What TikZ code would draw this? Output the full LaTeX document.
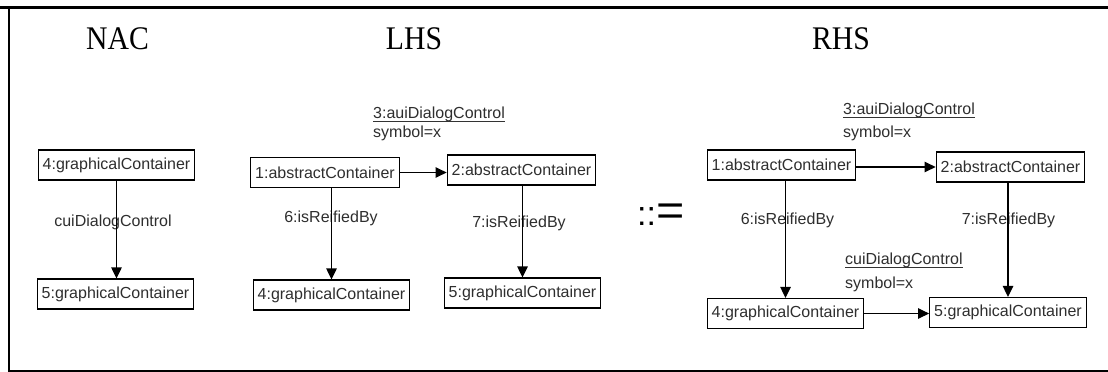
\documentclass[tikz,border=0pt]{standalone}
\usepackage{fontspec}
\setmainfont{Liberation Serif}
\setsansfont{Liberation Sans}
\usetikzlibrary{arrows.meta}
\begin{document}
\begin{tikzpicture}[x=1pt,y=-1pt,
  box/.style={draw, line width=1.2pt, font=\fontsize{16}{18}\selectfont\sffamily, text=black!82, inner xsep=4.5pt, inner ysep=0pt, minimum height=30pt},
  lbl/.style={font=\fontsize{16}{18}\selectfont\sffamily, text=black!82, inner sep=0pt},
  ttl/.style={font=\fontsize{33}{36}\selectfont, inner sep=0pt},
  arr/.style={-{Triangle[length=11pt,width=10.5pt]}, line width=1.2pt},
  uline/.style={line width=1pt, black!80}
]
\useasboundingbox (0,0) rectangle (1108,372);
% frame
\draw[line width=3pt] (0,7.5) -- (1108,7.5);
\draw[line width=2.2pt] (9.3,6) -- (9.3,371);
\draw[line width=2pt] (8.2,370.5) -- (1108,370.5);

% titles
\node[ttl] (tnac) at (117.5,39) {\scalebox{0.9}[1]{NAC}};
\node[ttl] (tlhs) at (414,39) {\scalebox{0.9}[1]{LHS}};
\node[ttl] (trhs) at (841,39) {\scalebox{0.9}[1]{RHS}};

% NAC
\node[box] (n4) at (116.5,165) {4:graphicalContainer};
\node[box] (n5) at (115.5,294) {5:graphicalContainer};
\node[lbl] (nlab) at (113,222) {cuiDialogControl};
\draw[arr] (n4.south) -- (n4.south |- n5.north);

% LHS
\node[lbl, anchor=base west] (l3) at (373,118) {3:auiDialogControl};
\draw[uline] ([yshift=-3.5pt]l3.base west) -- ([yshift=-3.5pt]l3.base east);
\node[lbl, anchor=base west] (l3s) at (373,137) {symbol=x};
\node[box] (l1) at (325,172.5) {1:abstractContainer};
\node[box] (l2) at (521.5,170) {2:abstractContainer};
\node[box] (l4) at (331.5,295) {4:graphicalContainer};
\node[box] (l5) at (522.5,293) {5:graphicalContainer};
\node[lbl] (l6lab) at (331,218) {6:isReifiedBy};
\node[lbl] (l7lab) at (519,223) {7:isReifiedBy};
\draw[arr] (l1.east) -- (l1.east -| l2.west);
\draw[arr] (l1.south -| l4.north) -- (l4.north);
\draw[arr] (l2.south -| l5.north) -- (l5.north);

% ::=
\node[anchor=base west, inner sep=0pt, font=\fontsize{34}{34}\selectfont\sffamily] (colons) at (637,225) {::};
\node[anchor=base west, inner sep=0pt, font=\fontsize{44}{44}\selectfont\sffamily] (eqs) at (656,225) {\scalebox{1.1}[1]{=}};

% RHS
\node[lbl, anchor=base west] (r3) at (843,114) {3:auiDialogControl};
\draw[uline] ([yshift=-3.5pt]r3.base west) -- ([yshift=-3.5pt]r3.base east);
\node[lbl, anchor=base west] (r3s) at (843,137) {symbol=x};
\node[box] (r1) at (781.5,165) {1:abstractContainer};
\node[box] (r2) at (1010.5,167) {2:abstractContainer};
\node[box] (r4) at (785.5,313.5) {4:graphicalContainer};
\node[box] (r5) at (1008,312.5) {5:graphicalContainer};
\node[lbl] (r6lab) at (787.5,220) {6:isReifiedBy};
\node[lbl] (r7lab) at (1008.5,220) {7:isReifiedBy};
\node[lbl, anchor=base west] (rc) at (845,264) {cuiDialogControl};
\draw[uline] ([yshift=-3.5pt]rc.base west) -- ([yshift=-3.5pt]rc.base east);
\node[lbl, anchor=base west] (rcs) at (845,288) {symbol=x};
\draw[arr] (r1.east |- r2.west) -- (r2.west);
\draw[arr] (r1.south -| r4.north) -- (r4.north);
\draw[arr] (r2.south -| r5.north) -- (r5.north);
\draw[arr] (r4.east) -- (r4.east -| r5.west);
\end{tikzpicture}
\end{document}
